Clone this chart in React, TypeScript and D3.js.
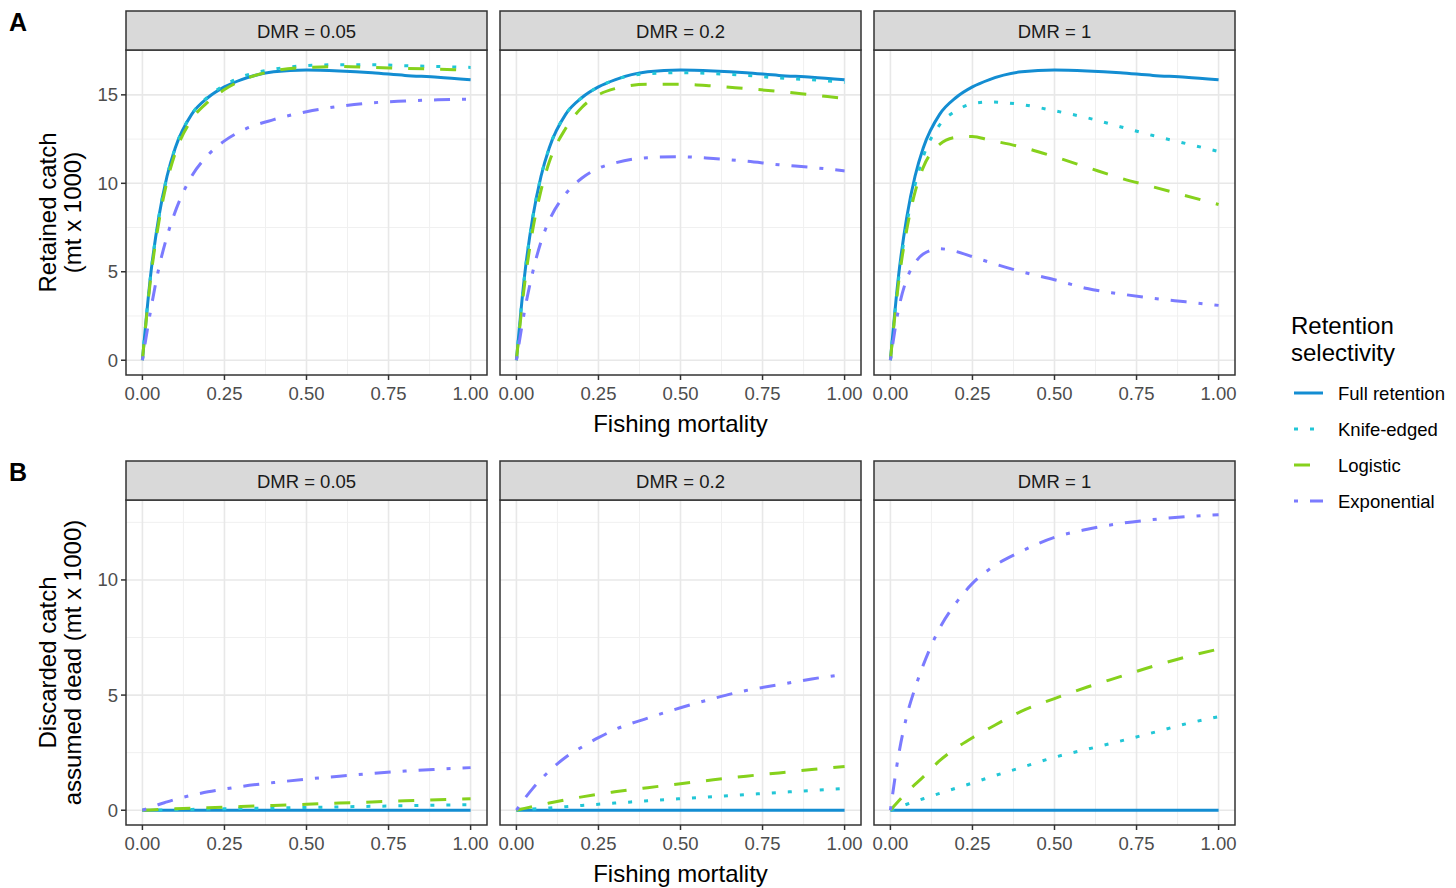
import React from "react";
import * as d3 from "d3";

// ---------- DATA ----------
const fishingMortality = [0, 0.025, 0.05, 0.075, 0.1, 0.15, 0.2, 0.25, 0.3, 0.4, 0.5, 0.6, 0.7, 0.8, 0.9, 1.0];
const dmrLabels = ["DMR = 0.05", "DMR = 0.2", "DMR = 1"];
const seriesNames = ["Full retention", "Knife-edged", "Logistic", "Exponential"];
const xTicks = [0, 0.25, 0.5, 0.75, 1];
const xTickLabels = ["0.00", "0.25", "0.50", "0.75", "1.00"];
const xMinor = [0.125, 0.375, 0.625, 0.875];
const retainedYTicks = [0, 5, 10, 15];
const retainedYMinor = [2.5, 7.5, 12.5];
const discardYTicks = [0, 5, 10];
const discardYMinor = [2.5, 7.5, 12.5];

// Retained catch (mt x 1000)
const retainedFull = [0, 4.8, 8.1, 10.4, 12.0, 13.9, 14.85, 15.45, 15.85, 16.3, 16.4, 16.35, 16.25, 16.1, 16.0, 15.85];
const retainedKnife005 = [0, 4.8, 8.1, 10.4, 12.0, 13.9, 14.9, 15.55, 16.0, 16.45, 16.65, 16.7, 16.7, 16.65, 16.6, 16.55];
const retainedLogistic005 = [0, 4.6, 7.8, 10.1, 11.7, 13.6, 14.6, 15.3, 15.8, 16.35, 16.55, 16.6, 16.55, 16.5, 16.45, 16.4];
const retainedExp005 = [0, 2.8, 5.2, 7.0, 8.4, 10.4, 11.6, 12.4, 12.95, 13.6, 14.05, 14.35, 14.55, 14.65, 14.72, 14.75];
const retainedKnife02 = [0, 4.8, 8.1, 10.4, 12.0, 13.9, 14.85, 15.45, 15.85, 16.2, 16.25, 16.2, 16.1, 15.95, 15.85, 15.7];
const retainedLogistic02 = [0, 4.3, 7.4, 9.6, 11.2, 13.1, 14.3, 15.0, 15.35, 15.6, 15.6, 15.5, 15.35, 15.2, 15.0, 14.8];
const retainedExp02 = [0, 2.8, 5.0, 6.7, 7.9, 9.4, 10.3, 10.85, 11.15, 11.45, 11.5, 11.4, 11.25, 11.05, 10.9, 10.7];
const retainedKnife1 = [0, 4.6, 7.7, 9.9, 11.5, 13.3, 14.1, 14.5, 14.6, 14.45, 14.1, 13.7, 13.2, 12.7, 12.25, 11.8];
const retainedLogistic1 = [0, 4.4, 7.4, 9.5, 10.9, 12.2, 12.6, 12.65, 12.45, 12.05, 11.5, 10.9, 10.3, 9.8, 9.3, 8.8];
const retainedExp1 = [0, 2.9, 4.6, 5.5, 6.0, 6.3, 6.15, 5.85, 5.55, 5.0, 4.55, 4.05, 3.75, 3.5, 3.3, 3.1];

// Discarded catch assumed dead (mt x 1000)
const discardFull = [0, 0, 0, 0, 0, 0, 0, 0, 0, 0, 0, 0, 0, 0, 0, 0];
const discardKnife005 = [0, 0.006, 0.012, 0.018, 0.024, 0.036, 0.048, 0.06, 0.072, 0.096, 0.12, 0.145, 0.17, 0.195, 0.22, 0.24];
const discardLogistic005 = [0, 0.015, 0.03, 0.045, 0.06, 0.085, 0.11, 0.135, 0.16, 0.21, 0.26, 0.31, 0.36, 0.41, 0.46, 0.5];
const discardExp005 = [0, 0.12, 0.25, 0.36, 0.47, 0.65, 0.8, 0.92, 1.03, 1.2, 1.35, 1.48, 1.6, 1.7, 1.78, 1.85];
const discardKnife02 = [0, 0.025, 0.05, 0.075, 0.1, 0.155, 0.21, 0.26, 0.31, 0.41, 0.5, 0.59, 0.68, 0.77, 0.86, 0.94];
const discardLogistic02 = [0, 0.08, 0.16, 0.24, 0.31, 0.45, 0.58, 0.7, 0.8, 0.98, 1.15, 1.32, 1.48, 1.62, 1.77, 1.9];
const discardExp02 = [0, 0.5, 0.95, 1.35, 1.7, 2.3, 2.75, 3.15, 3.5, 4.0, 4.45, 4.85, 5.2, 5.45, 5.7, 5.9];
const discardKnife1 = [0, 0.13, 0.26, 0.38, 0.5, 0.73, 0.96, 1.18, 1.42, 1.86, 2.3, 2.65, 3.0, 3.37, 3.75, 4.06];
const discardLogistic1 = [0, 0.4, 0.78, 1.12, 1.45, 2.15, 2.7, 3.15, 3.55, 4.3, 4.85, 5.35, 5.8, 6.25, 6.65, 7.0];
const discardExp1 = [0, 2.4, 4.1, 5.3, 6.3, 7.9, 9.0, 9.85, 10.45, 11.25, 11.85, 12.2, 12.45, 12.62, 12.75, 12.83];

const retainedPanels = [
  [retainedFull, retainedKnife005, retainedLogistic005, retainedExp005],
  [retainedFull, retainedKnife02, retainedLogistic02, retainedExp02],
  [retainedFull, retainedKnife1, retainedLogistic1, retainedExp1],
];
const discardPanels = [
  [discardFull, discardKnife005, discardLogistic005, discardExp005],
  [discardFull, discardKnife02, discardLogistic02, discardExp02],
  [discardFull, discardKnife1, discardLogistic1, discardExp1],
];

// ---------- STYLE ----------
const colors = ["#138dd2", "#22c6d6", "#86d11c", "#7b7bff"];
const dashes = [null, "4,12", "16,16", "4,12,16,12"];
const LW = 3;
const FONT = "'Liberation Sans', Arial, Helvetica, sans-serif";
const TICK_FS = 18.5;
const TITLE_FS = 24;

const colX = [126, 500, 874];
const panelW = 361;

type RowSpec = {
  stripTop: number;
  top: number;
  bottom: number;
  panels: number[][][];
  yTicks: number[];
  yMinor: number[];
  titleLines: string[];
  tag: string;
};

const rows: RowSpec[] = [
  { stripTop: 11, top: 50, bottom: 375, panels: retainedPanels, yTicks: retainedYTicks, yMinor: retainedYMinor, titleLines: ["Retained catch", "(mt x 1000)"], tag: "A" },
  { stripTop: 461, top: 500, bottom: 825, panels: discardPanels, yTicks: discardYTicks, yMinor: discardYMinor, titleLines: ["Discarded catch", "assumed dead (mt x 1000)"], tag: "B" },
];

function Row({ row }: { row: RowSpec }) {
  const all = row.panels.flat(2);
  const yMax = d3.max(all) as number;
  const y = d3.scaleLinear().domain([-0.05 * yMax, 1.05 * yMax]).range([row.bottom, row.top]);
  const midY = (row.top + row.bottom) / 2;
  return (
    <g>
      <text x={9} y={row.stripTop + 20} fontFamily={FONT} fontWeight="bold" fontSize={25} fill="#000">{row.tag}</text>
      {/* y-axis title */}
      <g transform={`translate(60,${midY}) rotate(-90)`}>
        <text x={0} y={-13} textAnchor="middle" dominantBaseline="central" fontFamily={FONT} fontSize={TITLE_FS} fill="#000">{row.titleLines[0]}</text>
        <text x={0} y={12} textAnchor="middle" dominantBaseline="central" fontFamily={FONT} fontSize={TITLE_FS} fill="#000">{row.titleLines[1]}</text>
      </g>
      {/* y tick labels */}
      {row.yTicks.map((t) => (
        <g key={"yt" + t}>
          <line x1={colX[0] - 5} x2={colX[0]} y1={y(t)} y2={y(t)} stroke="#333" strokeWidth={1.5} />
          <text x={colX[0] - 8} y={y(t)} textAnchor="end" dominantBaseline="central" fontFamily={FONT} fontSize={TICK_FS} fill="#4d4d4d">{t}</text>
        </g>
      ))}
      {row.panels.map((series, pi) => {
        const left = colX[pi];
        const x = d3.scaleLinear().domain([-0.05, 1.05]).range([left, left + panelW]);
        const line = d3
          .line<number>()
          .x((_, i) => x(fishingMortality[i]))
          .y((v) => y(v))
          .curve(d3.curveMonotoneX);
        return (
          <g key={"p" + pi}>
            <rect x={left} y={row.top} width={panelW} height={row.bottom - row.top} fill="#fff" />
            {xMinor.map((t) => (
              <line key={"xm" + t} x1={x(t)} x2={x(t)} y1={row.top} y2={row.bottom} stroke="#f0f0f0" strokeWidth={1} />
            ))}
            {row.yMinor.map((t) => (
              <line key={"ym" + t} x1={left} x2={left + panelW} y1={y(t)} y2={y(t)} stroke="#f0f0f0" strokeWidth={1} />
            ))}
            {xTicks.map((t) => (
              <line key={"xg" + t} x1={x(t)} x2={x(t)} y1={row.top} y2={row.bottom} stroke="#e8e8e8" strokeWidth={1.6} />
            ))}
            {row.yTicks.map((t) => (
              <line key={"yg" + t} x1={left} x2={left + panelW} y1={y(t)} y2={y(t)} stroke="#e8e8e8" strokeWidth={1.6} />
            ))}
            {series.map((vals, si) => (
              <path
                key={"s" + si}
                d={line(vals) || ""}
                fill="none"
                stroke={colors[si]}
                strokeWidth={LW}
                strokeDasharray={dashes[si] || undefined}
              />
            ))}
            <rect x={left} y={row.top} width={panelW} height={row.bottom - row.top} fill="none" stroke="#333" strokeWidth={1.5} />
            {/* strip */}
            <rect x={left} y={row.stripTop} width={panelW} height={row.top - row.stripTop} fill="#d9d9d9" stroke="#333" strokeWidth={1.5} />
            <text x={left + panelW / 2} y={(row.stripTop + row.top) / 2 + 1} textAnchor="middle" dominantBaseline="central" fontFamily={FONT} fontSize={TICK_FS} fill="#1a1a1a">{dmrLabels[pi]}</text>
            {/* x ticks */}
            {xTicks.map((t, ti) => (
              <g key={"xt" + t}>
                <line x1={x(t)} x2={x(t)} y1={row.bottom} y2={row.bottom + 5} stroke="#333" strokeWidth={1.5} />
                <text x={x(t)} y={row.bottom + 18} textAnchor="middle" dominantBaseline="central" fontFamily={FONT} fontSize={TICK_FS} fill="#4d4d4d">{xTickLabels[ti]}</text>
              </g>
            ))}
          </g>
        );
      })}
      <text x={(colX[0] + colX[2] + panelW) / 2} y={row.bottom + 48} textAnchor="middle" dominantBaseline="central" fontFamily={FONT} fontSize={TITLE_FS} fill="#000">Fishing mortality</text>
    </g>
  );
}

function Legend() {
  const lx = 1291;
  const itemY = [393, 429, 465, 501];
  return (
    <g>
      <text x={lx} y={325} dominantBaseline="central" fontFamily={FONT} fontSize={TITLE_FS} fill="#000">Retention</text>
      <text x={lx} y={352} dominantBaseline="central" fontFamily={FONT} fontSize={TITLE_FS} fill="#000">selectivity</text>
      {seriesNames.map((n, i) => (
        <g key={n}>
          <line x1={1294} x2={1323} y1={itemY[i]} y2={itemY[i]} stroke={colors[i]} strokeWidth={LW} strokeDasharray={dashes[i] || undefined} />
          <text x={1338} y={itemY[i]} dominantBaseline="central" fontFamily={FONT} fontSize={TICK_FS} fill="#000">{n}</text>
        </g>
      ))}
    </g>
  );
}

export default function App() {
  return (
    <svg width={1456} height={888} style={{ position: "absolute", left: 0, top: 0, background: "#fff" }}>
      <rect width={1456} height={888} fill="#fff" />
      {rows.map((r) => (
        <Row key={r.tag} row={r} />
      ))}
      <Legend />
    </svg>
  );
}
